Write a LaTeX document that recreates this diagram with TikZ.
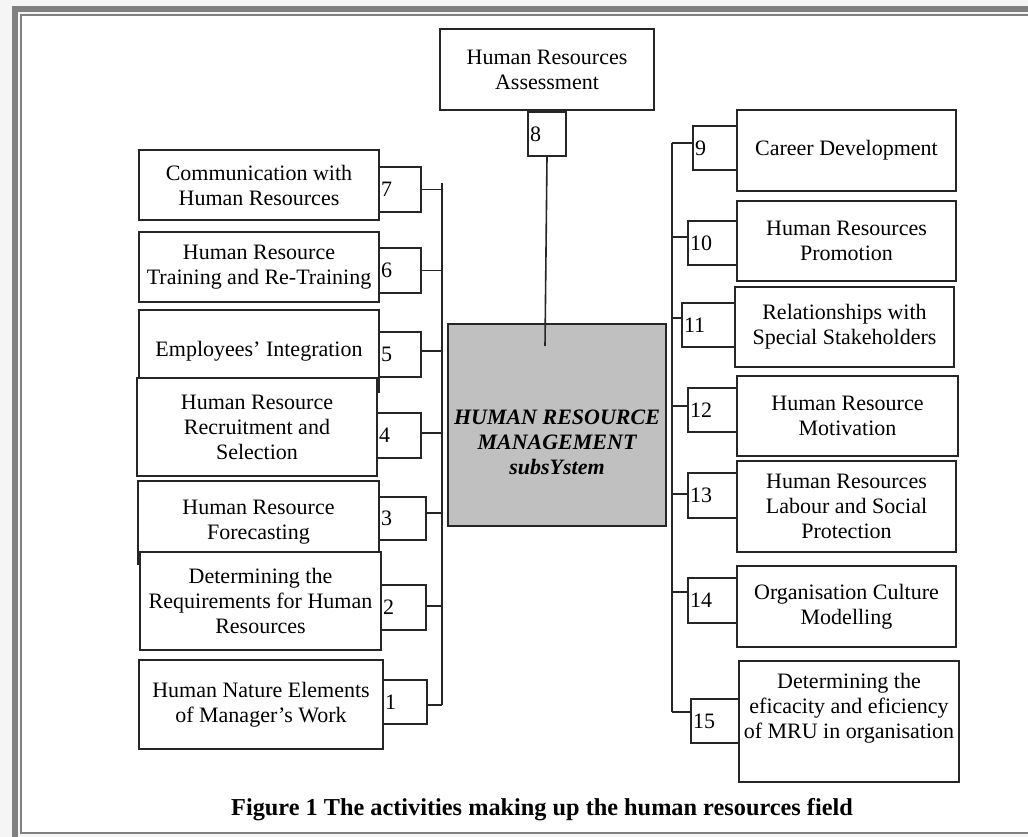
\documentclass[tikz,border=0pt]{standalone}
\usepackage{fontspec}
\setmainfont{Liberation Serif}
\definecolor{framegray}{HTML}{808080}
\definecolor{boxgray}{HTML}{C0C0C0}
\definecolor{pagebg}{HTML}{F5F5F5}
\tikzset{
  txt/.style={font=\fontsize{22}{25}\selectfont},
  box/.style={txt, draw=black!85, line width=1.9pt, fill=white, inner sep=0pt, align=center},
  num/.style={txt, draw=black!85, line width=1.9pt, fill=white, inner xsep=2pt, inner ysep=0pt, align=left},
  conn/.style={draw=black!85, line width=1.6pt},
}
\begin{document}
\begin{tikzpicture}[x=1pt,y=-1pt]
\useasboundingbox (0,0) rectangle (1028,837);
\fill[pagebg] (0,0) rectangle (1028,837);
\fill[white] (21,15) rectangle (1028,833);
\draw[framegray, line width=6pt] (15,840) -- (15,9) -- (1032,9);
\draw[framegray, line width=1.5pt] (1032,15) -- (21,15) -- (21,833) -- (1032,833);

% top
\node[box, minimum width=214pt, minimum height=81pt] (b8) at (547,69.5) {Human Resources\\Assessment};
\node[num, text width=34pt, minimum height=44pt] (n8) at (547,134) {8};

% centre
\node[box, fill=boxgray, minimum width=218pt, minimum height=202pt] (hrm) at (557,425) {};
\node[txt, align=center, font=\fontsize{22}{25}\selectfont\bfseries\itshape] (hrmtext) at (557,442) {HUMAN RESOURCE\\MANAGEMENT\\subsYstem};
\coordinate (c8) at (545,346);
\draw[conn] (n8.south) -- (c8);

% left side
\node[box, minimum width=240pt, minimum height=70pt] (b7) at (259,185) {Communication with\\Human Resources};
\node[num, text width=38pt, minimum height=45pt] (n7) at (400,189.5) {7};
\node[box, minimum width=240pt, minimum height=70pt] (b6) at (259,267) {Human Resource\\Training and Re-Training};
\node[num, text width=38pt, minimum height=45pt] (n6) at (400,270.5) {6};
\node[box, minimum width=240pt, minimum height=82pt] (b5) at (259,351) {Employees’ Integration};
\node[num, text width=38pt, minimum height=45pt] (n5) at (400,354.5) {5};
\node[box, minimum width=240pt, minimum height=98pt] (b4) at (257,427) {Human Resource\\Recruitment and\\Selection};
\node[num, text width=40pt, minimum height=45pt] (n4) at (399,435.5) {4};
\node[box, minimum width=241pt, minimum height=83pt] (b3) at (258.5,522.5) {Human Resource\\Forecasting};
\node[num, text width=43pt, minimum height=43pt] (n3) at (402.5,518.5) {3};
\node[box, minimum width=241pt, minimum height=98pt] (b2) at (260.5,601) {Determining the\\Requirements for Human\\Resources};
\node[num, text width=41pt, minimum height=45pt] (n2) at (403.5,607.5) {2};
\node[box, minimum width=244pt, minimum height=89pt] (b1) at (261,704.5) {Human Nature Elements\\of Manager’s Work};
\node[num, text width=40pt, minimum height=44pt] (n1) at (405,702) {1};

\coordinate (lb1) at (442,183);
\coordinate (lb2) at (442,705);
\draw[conn] (lb1) -- (lb2);
\draw[conn] (n7.east) -- (n7.east -| lb1);
\draw[conn] (n6.east) -- (n6.east -| lb1);
\draw[conn] ([yshift=3.5pt]n5.east) -- ([yshift=3.5pt]n5.east -| lb1);
\draw[conn] ([yshift=2.5pt]n4.east) -- ([yshift=2.5pt]n4.east -| lb1);
\draw[conn] ([yshift=5.5pt]n3.east) -- ([yshift=5.5pt]n3.east -| lb1);
\draw[conn] ([yshift=1.5pt]n2.east) -- ([yshift=1.5pt]n2.east -| lb1);
\draw[conn] ([yshift=-3pt]n1.east) -- ([yshift=-3pt]n1.east -| lb1);

% right side
\node[box, minimum width=219pt, minimum height=81pt] (b9) at (846.5,150.5) {Career Development};
\node[num, text width=40pt, minimum height=44pt] (n9) at (715,148) {9};
\node[box, minimum width=219pt, minimum height=80pt] (b10) at (846.5,241) {Human Resources\\Promotion};
\node[num, text width=45pt, minimum height=44pt] (n10) at (712.5,243) {10};
\node[box, minimum width=219pt, minimum height=80pt] (b11) at (844.5,327) {Relationships with\\Special Stakeholders};
\node[num, text width=49pt, minimum height=44pt] (n11) at (708.5,325) {11};
\node[box, minimum width=221pt, minimum height=80pt] (b12) at (847.5,416) {Human Resource\\Motivation};
\node[num, text width=45pt, minimum height=44pt] (n12) at (712.5,410) {12};
\node[box, minimum width=219pt, minimum height=91pt] (b13) at (846.5,506.5) {Human Resources\\Labour and Social\\Protection};
\node[num, text width=45pt, minimum height=45pt] (n13) at (712.5,495.5) {13};
\node[box, minimum width=219pt, minimum height=81pt] (b14) at (846.5,606.5) {Organisation Culture\\Modelling};
\node[num, text width=45pt, minimum height=45pt] (n14) at (712.5,600.5) {14};
\node[box, minimum width=220pt, minimum height=121pt] (b15) at (849,721.5) {};
\node[txt, align=center] (b15text) at (849,708) {Determining the\\eficacity and eficiency\\of MRU in organisation};
\node[num, text width=44pt, minimum height=44pt] (n15) at (715,721) {15};

\coordinate (rb1) at (672,143);
\coordinate (rb2) at (672,712);
\draw[conn] (rb1) -- (rb2);
\draw[conn] ([yshift=5pt]n9.west -| rb1) -- ([yshift=5pt]n9.west);
\draw[conn] ([yshift=6pt]n10.west -| rb1) -- ([yshift=6pt]n10.west);
\draw[conn] ([yshift=7pt]n11.west -| rb1) -- ([yshift=7pt]n11.west);
\draw[conn] ([yshift=4pt]n12.west -| rb1) -- ([yshift=4pt]n12.west);
\draw[conn] ([yshift=1.5pt]n13.west -| rb1) -- ([yshift=1.5pt]n13.west);
\draw[conn] ([yshift=8.5pt]n14.west -| rb1) -- ([yshift=8.5pt]n14.west);
\draw[conn] ([yshift=9pt]n15.west -| rb1) -- ([yshift=9pt]n15.west);

% caption
\node[font=\fontsize{24.3}{27}\selectfont\bfseries] (cap) at (542,810) {Figure 1 The activities making up the human resources field};
\end{tikzpicture}
\end{document}
